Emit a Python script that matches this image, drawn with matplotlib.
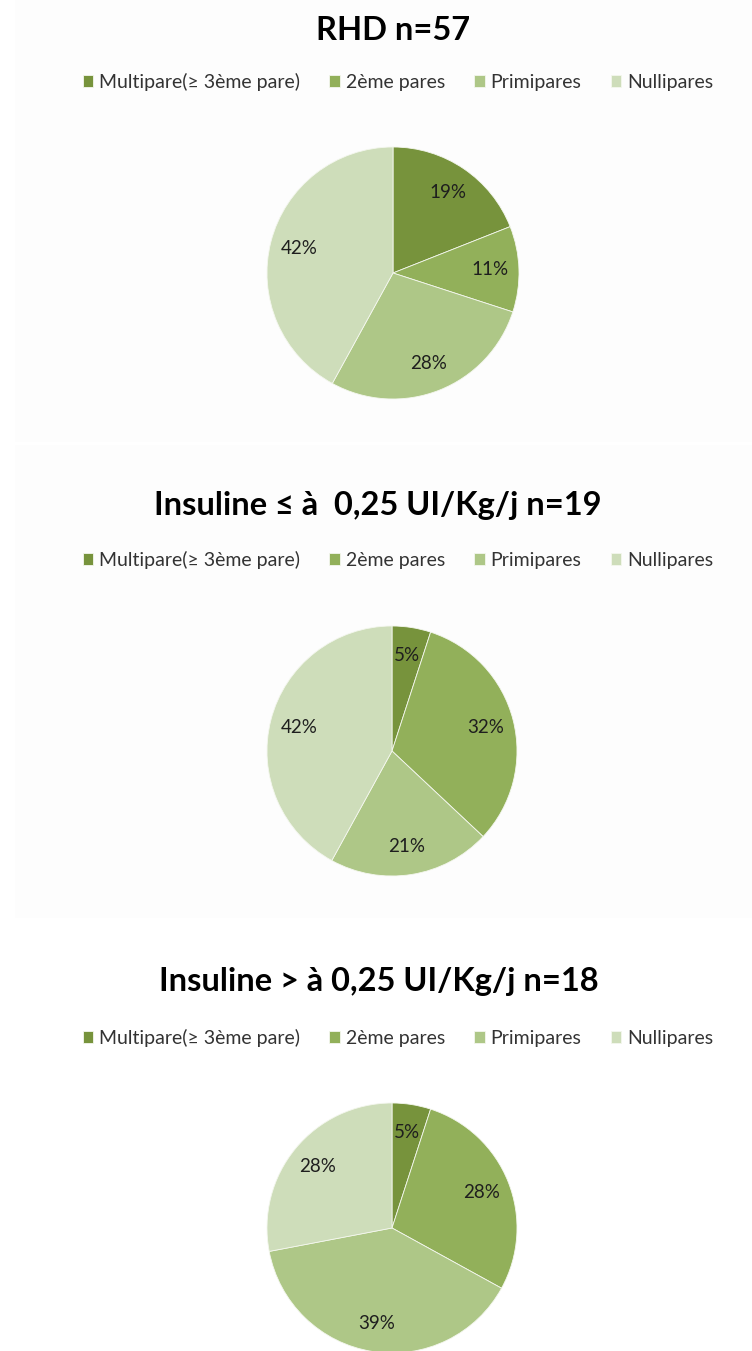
import matplotlib
matplotlib.use("Agg")
import matplotlib.pyplot as plt
from matplotlib.patches import Rectangle

plt.rcParams['font.family'] = ['Lato', 'DejaVu Sans']

categories = ["Multipare(≥ 3ème pare)", "2ème pares", "Primipares", "Nullipares"]
titles = ["RHD n=57", "Insuline ≤ à  0,25 UI/Kg/j n=19", "Insuline > à 0,25 UI/Kg/j n=18"]
values_rhd = [19, 11, 28, 42]
values_low = [5, 32, 21, 42]
values_high = [5, 28, 39, 28]
colors = ['#77933C', '#92B05A', '#AEC787', '#CEDDBA']

W, H = 752, 1351
fig = plt.figure(figsize=(W / 100, H / 100), dpi=100)
fig.patch.set_facecolor('white')

# faint panel backgrounds
for top, bot in [(0, 442), (445, 918)]:
    fig.add_artist(Rectangle((15 / W, 1 - bot / H), (W - 15) / W, (bot - top) / H,
                             transform=fig.transFigure, facecolor='#FDFDFD',
                             edgecolor='none', zorder=-5))

panels = [
    (values_rhd, 393, 273, 126, 393, 30, 82),
    (values_low, 392, 751, 125, 378, 505, 560),
    (values_high, 392, 1228, 125, 379, 982, 1038),
]

for (vals, cx, cy, r, tx, ty, ly), title in zip(panels, titles):
    ax = fig.add_axes([(cx - r) / W, 1 - (cy + r) / H, 2 * r / W, 2 * r / H])
    ax.set_zorder(2)
    ax.patch.set_alpha(0)
    wedges, texts = ax.pie(vals, colors=colors, startangle=90, counterclock=False,
                           radius=1.0, labels=[f"{v}%" for v in vals], labeldistance=0.77,
                           wedgeprops=dict(linewidth=0.6, edgecolor='#F4F7EE'),
                           textprops=dict(fontsize=13.5, color='#1E1E1E'))
    for t in texts:
        t.set_horizontalalignment('center')
        t.set_verticalalignment('center')
    ax.set_xlim(-1, 1)
    ax.set_ylim(-1, 1)
    ax.set_aspect('equal')
    ax.axis('off')
    fig.text(tx / W, 1 - ty / H, title, ha='center', va='center',
             fontsize=23.5, fontweight='bold', color='black')
    fig.legend(wedges, categories, loc='center', bbox_to_anchor=(398 / W, 1 - ly / H),
               ncol=4, frameon=False, fontsize=14, handlelength=0.55, handleheight=0.55,
               handletextpad=0.3, columnspacing=1.5, labelcolor='#333333')

fig.savefig('out.png', dpi=100)
